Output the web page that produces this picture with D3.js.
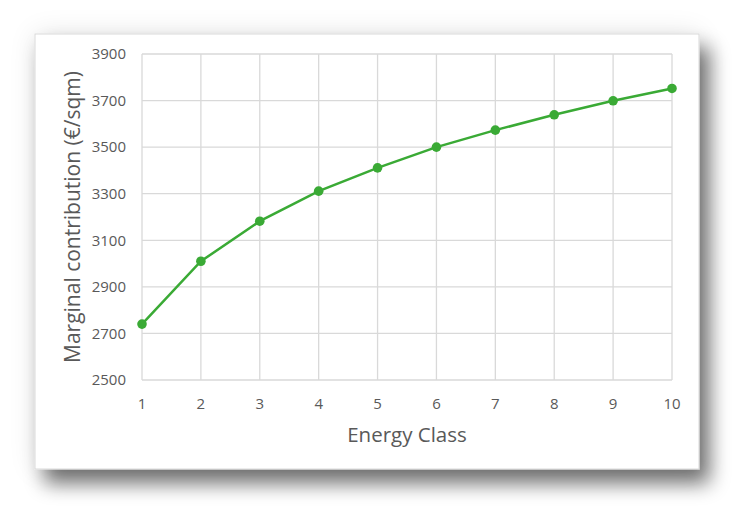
<!DOCTYPE html>
<html><head><meta charset="utf-8">
<script src="https://cdn.jsdelivr.net/npm/d3@7"></script>
<style>body{margin:0;background:#fff;}svg{display:block;}</style>
</head><body>
<svg id="c" width="744" height="519"></svg>
<script>
const classes = [1,2,3,4,5,6,7,8,9,10];
const values = [2740,3010,3182,3311,3411,3500,3573,3639,3699,3752];
const yTicks = [2500,2700,2900,3100,3300,3500,3700,3900];
const xLabel = "Energy Class";
const yLabel = "Marginal contribution (€/sqm)";

const svg = d3.select("#c");
const defs = svg.append("defs");
const f = defs.append("filter").attr("id","sh").attr("x","-20%").attr("y","-20%").attr("width","145%").attr("height","150%");
f.append("feGaussianBlur").attr("in","SourceAlpha").attr("stdDeviation",14).attr("result","b1");
f.append("feComponentTransfer").attr("in","b1").attr("result","c1").append("feFuncA").attr("type","linear").attr("slope",0.1);
f.append("feGaussianBlur").attr("in","SourceAlpha").attr("stdDeviation",10).attr("result","b2");
f.append("feOffset").attr("in","b2").attr("dx",10).attr("dy",14).attr("result","o2");
f.append("feComponentTransfer").attr("in","o2").attr("result","c2").append("feFuncA").attr("type","linear").attr("slope",0.55);
const m = f.append("feMerge");
m.append("feMergeNode").attr("in","c1");
m.append("feMergeNode").attr("in","c2");
m.append("feMergeNode").attr("in","SourceGraphic");

svg.append("rect").attr("x",35).attr("y",34).attr("width",664).attr("height",435)
  .attr("fill","#fff").attr("stroke","#d9d9d9").attr("stroke-width",1).attr("filter","url(#sh)");

const L=142, R=672, T=54, B=380;
const x = d3.scaleLinear().domain([1,10]).range([L,R]);
const y = d3.scaleLinear().domain([2500,3900]).range([B,T]);

const g = svg.append("g");
g.selectAll("line.h").data(yTicks).enter().append("line")
  .attr("x1",L).attr("x2",R).attr("y1",d=>y(d)).attr("y2",d=>y(d))
  .attr("stroke","#d9d9d9").attr("stroke-width",1.3);
g.selectAll("line.v").data(classes).enter().append("line")
  .attr("y1",T).attr("y2",B).attr("x1",d=>x(d)).attr("x2",d=>x(d))
  .attr("stroke","#d9d9d9").attr("stroke-width",1.3);

const font = "'Open Sans', 'Liberation Sans', sans-serif";
g.selectAll("text.yt").data(yTicks).enter().append("text")
  .attr("x",L-16).attr("y",d=>y(d)).attr("dy","0.35em").attr("text-anchor","end")
  .attr("font-family",font).attr("font-size",15).attr("fill","#595959").text(d=>d);
g.selectAll("text.xt").data(classes).enter().append("text")
  .attr("x",d=>x(d)).attr("y",B+24).attr("dy","0.35em").attr("text-anchor","middle")
  .attr("font-family",font).attr("font-size",15).attr("fill","#595959").text(d=>d);

svg.append("text").attr("x",(L+R)/2).attr("y",435).attr("dy","0.35em").attr("text-anchor","middle")
  .attr("font-family",font).attr("font-size",20.5).attr("fill","#595959").text(xLabel);
svg.append("text").attr("transform",`translate(73,${(T+B)/2}) rotate(-90)`).attr("dy","0.35em").attr("text-anchor","middle")
  .attr("font-family",font).attr("font-size",21).attr("fill","#595959").text(yLabel);

const data = classes.map((c,i)=>({c, v: values[i]}));
const line = d3.line().x(d=>x(d.c)).y(d=>y(d.v));
svg.append("path").datum(data).attr("d",line).attr("fill","none").attr("stroke","#3aaa35").attr("stroke-width",2.5);
svg.selectAll("circle").data(data).enter().append("circle")
  .attr("cx",d=>x(d.c)).attr("cy",d=>y(d.v)).attr("r",4.8).attr("fill","#3aaa35");
</script>
</body></html>
